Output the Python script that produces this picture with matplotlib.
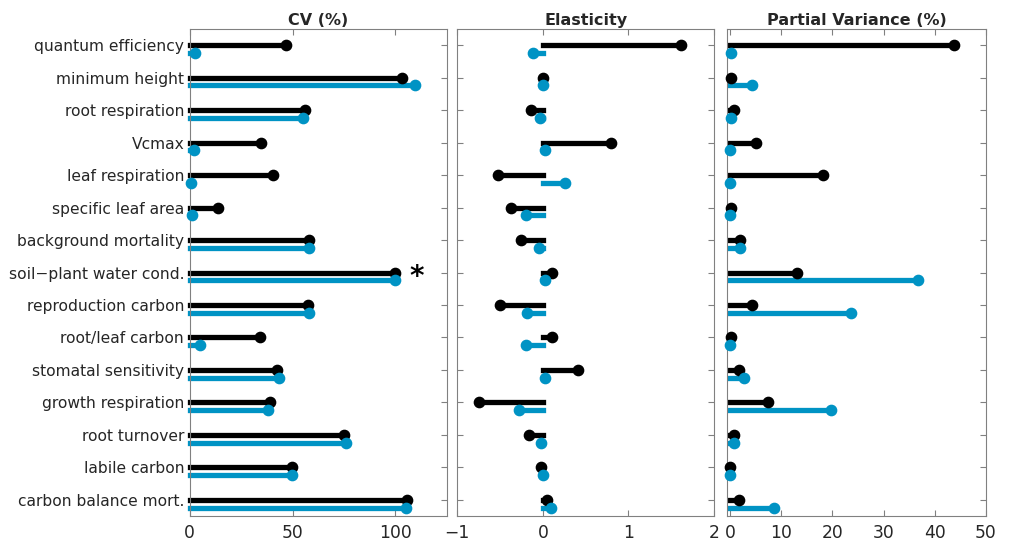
import matplotlib
matplotlib.use("Agg")
import matplotlib.pyplot as plt
import numpy as np

categories = ["quantum efficiency", "minimum height", "root respiration", "Vcmax",
              "leaf respiration", "specific leaf area", "background mortality",
              "soil\u2212plant water cond.", "reproduction carbon", "root/leaf carbon",
              "stomatal sensitivity", "growth respiration", "root turnover",
              "labile carbon", "carbon balance mort."]

cv_black = [46.7, 103.5, 55.9, 34.6, 40.3, 13.6, 57.9, 100.0, 57.6, 34.3, 42.4, 39.0, 75.2, 49.8, 105.6]
cv_blue = [2.6, 109.4, 55.2, 2.1, 0.8, 1.1, 58.2, 100.0, 57.8, 4.9, 43.2, 38.3, 75.9, 49.8, 105.3]

el_black = [1.61, 0.0, -0.14, 0.80, -0.52, -0.37, -0.26, 0.11, -0.50, 0.11, 0.41, -0.75, -0.16, -0.02, 0.05]
el_blue = [-0.12, 0.0, -0.03, 0.03, 0.26, -0.20, -0.05, 0.03, -0.19, -0.20, 0.03, -0.28, -0.02, 0.0, 0.10]

pv_black = [43.8, 0.2, 0.8, 5.1, 18.1, 0.2, 2.0, 13.1, 4.4, 0.3, 1.7, 7.4, 0.8, 0.0, 1.8]
pv_blue = [0.2, 4.3, 0.3, 0.0, 0.0, 0.0, 1.9, 36.8, 23.7, 0.05, 2.8, 19.7, 0.9, 0.0, 8.7]

titles = ["CV (%)", "Elasticity", "Partial Variance (%)"]
xlims = [(0, 125), (-1, 2), (-0.5, 50)]
xticks = [[0, 50, 100], [-1, 0, 1, 2], [0, 10, 20, 30, 40, 50]]

BLACK = "#000000"
BLUE = "#0093C4"
SPINE = "#808080"
TXT = "#262626"

W, H = 1010, 541
fig = plt.figure(figsize=(W / 100, H / 100), dpi=100)
lefts = [189.7, 457.3, 727.3]
widths = [257.0, 256.7, 258.7]
top, bottom = 29, 516

y = np.arange(1, len(categories) + 1)
off = 0.24
lw = 3.8
ms = 7.4

data = [(cv_black, cv_blue), (el_black, el_blue), (pv_black, pv_blue)]
for i in range(3):
    ax = fig.add_axes([lefts[i] / W, (H - bottom) / H, widths[i] / W, (bottom - top) / H])
    bvals, uvals = data[i]
    for yy, v in zip(y, bvals):
        ax.plot([0, v], [yy, yy], color=BLACK, lw=lw, solid_capstyle="projecting", clip_on=False, zorder=2)
        ax.plot([v], [yy], "o", color=BLACK, ms=ms, clip_on=False, zorder=3)
    for yy, v in zip(y, uvals):
        ax.plot([0, v], [yy + off, yy + off], color=BLUE, lw=lw, solid_capstyle="projecting", clip_on=False, zorder=2)
        ax.plot([v], [yy + off], "o", color=BLUE, ms=ms, clip_on=False, zorder=3)
    ax.set_xlim(*xlims[i])
    ax.set_ylim(15.5, 0.5)
    ax.set_xticks(xticks[i])
    ax.set_xticklabels([("\u2212" + str(abs(t))) if t < 0 else str(t) for t in xticks[i]])
    ax.set_yticks(y)
    if i == 0:
        ax.set_yticklabels(categories)
    else:
        ax.set_yticklabels([])
    ax.tick_params(direction="in", top=True, right=True, length=4, width=0.8,
                   color=SPINE, labelcolor=TXT, labelsize=11.2, pad=4)
    ax.tick_params(axis="x", labelsize=12.3, pad=5.5)
    for s in ax.spines.values():
        s.set_color(SPINE)
        s.set_linewidth(0.8)
    ax.set_title(titles[i], fontsize=11.5, fontweight="bold", color=TXT, pad=3)
    if i == 0:
        ax.text(110.5, 8.15, "*", fontsize=20, fontweight="bold", ha="center", va="center", color=BLACK)

fig.savefig("out.png", dpi=100)
